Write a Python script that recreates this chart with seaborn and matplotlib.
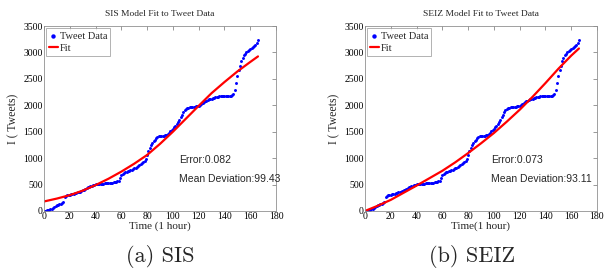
import numpy as np
import pandas as pd
import matplotlib
matplotlib.use("Agg")
import matplotlib.pyplot as plt
import seaborn as sns

# hourly tweet counts, t = 0..166
hours = list(range(167))
tweets = [0, 5, 10, 15, 20, 30, 45, 60, 75, 90, 105, 115, 125, 135, 150, 165,
          270, 290, 300, 305, 310, 315, 320, 328, 335, 345, 352, 360, 368, 378, 390,
          405, 425, 440, 450, 458, 465, 475, 485, 495, 505, 505, 510, 515, 515, 520,
          520, 522, 525, 528, 530, 532, 535, 538, 540, 545, 550, 560, 575,
          620, 680, 705, 720, 730, 740, 750, 760, 770, 782, 795, 805,
          820, 835, 850, 865, 880, 900, 925, 955, 990, 1060,
          1130, 1190, 1240, 1285, 1320, 1350, 1380, 1400, 1410, 1415,
          1418, 1420, 1425, 1432, 1443, 1460, 1480, 1505, 1530, 1560,
          1590, 1615, 1640, 1680, 1725, 1775, 1825, 1870, 1905, 1930,
          1945, 1955, 1962, 1965, 1968, 1970, 1972, 1978, 1985, 1995,
          2010, 2025, 2045, 2060, 2075, 2090, 2100, 2110, 2120, 2127,
          2135, 2142, 2150, 2158, 2165, 2170, 2172, 2175, 2177, 2177,
          2177, 2177, 2177, 2178, 2180, 2190, 2215, 2290, 2420, 2550,
          2665, 2740, 2830, 2900, 2945, 2980, 3010, 3030, 3045, 3060,
          3080, 3100, 3120, 3145, 3175, 3230]

fit_hours = [0, 10, 20, 30, 40, 50, 60, 70, 80, 90, 100, 110, 120, 130, 140, 150, 160, 166]
sis_fit = [180, 235, 300, 385, 490, 610, 745, 895, 1060, 1270, 1500, 1745, 1990,
           2230, 2440, 2640, 2820, 2925]
seiz_fit = [0, 100, 210, 345, 480, 620, 760, 920, 1095, 1280, 1475, 1690, 1915,
            2160, 2420, 2690, 2940, 3075]

titles = ["SIS Model Fit to Tweet Data", "SEIZ Model Fit to Tweet Data"]
xlabels = ["Time (1 hour)", "Time(1 hour)"]
captions = ["(a) SIS", "(b) SEIZ"]
errors = ["Error:0.082", "Error:0.073"]
deviations = ["Mean Deviation:99.43", "Mean Deviation:93.11"]
text_x = [105, 98]

sns.set_style("white")
plt.rcParams['font.family'] = ['Liberation Serif', 'DejaVu Serif']

data_df = pd.DataFrame({'t': hours, 'I': tweets})

fig = plt.figure(figsize=(6.08, 2.74), dpi=100)
lefts = [0.0724, 0.6003]
for i, fit in enumerate([sis_fit, seiz_fit]):
    ax = fig.add_axes([lefts[i], 0.23, 0.3816, 0.675])
    fit_df = pd.DataFrame({'t': fit_hours, 'I': fit})
    sns.scatterplot(data=data_df, x='t', y='I', ax=ax, color='#0000ff', s=4.5,
                    linewidth=0, label='Tweet Data')
    sns.lineplot(data=fit_df, x='t', y='I', ax=ax, color='#ff0000', linewidth=1.6,
                 label='Fit')
    ax.set_xlim(0, 180)
    ax.set_ylim(0, 3500)
    ax.set_xticks(range(0, 181, 20))
    ax.set_yticks(range(0, 3501, 500))
    ax.tick_params(direction='in', length=3, width=0.5, labelsize=7, pad=1,
                   top=True, right=True, colors='#707070', labelcolor='black')
    for sp in ax.spines.values():
        sp.set_color('#909090')
        sp.set_linewidth(0.6)
    ax.set_title(titles[i], fontsize=6.8, pad=7)
    ax.set_xlabel(xlabels[i], fontsize=8, labelpad=0)
    ax.set_ylabel('I ( Tweets)', fontsize=8.5, labelpad=3)
    ax.text(text_x[i], 960, errors[i], fontsize=7.5, family='Liberation Sans', va='center')
    ax.text(text_x[i], 600, deviations[i], fontsize=7.5, family='Liberation Sans', va='center')
    leg = ax.legend(loc='upper left', fontsize=7.5, frameon=True, fancybox=False,
                    handlelength=0.8, handletextpad=0.2, borderpad=0.3,
                    labelspacing=0.3, borderaxespad=0.2, markerscale=1.5)
    leg.get_frame().set_edgecolor('#909090')
    leg.get_frame().set_linewidth(0.6)
    fig.text(lefts[i] + 0.3816 / 2 + (0.0 if i == 0 else -0.015), 0.065, captions[i],
             ha='center', va='center', fontsize=16, family='cmr10')

fig.savefig('out.png', dpi=100)
